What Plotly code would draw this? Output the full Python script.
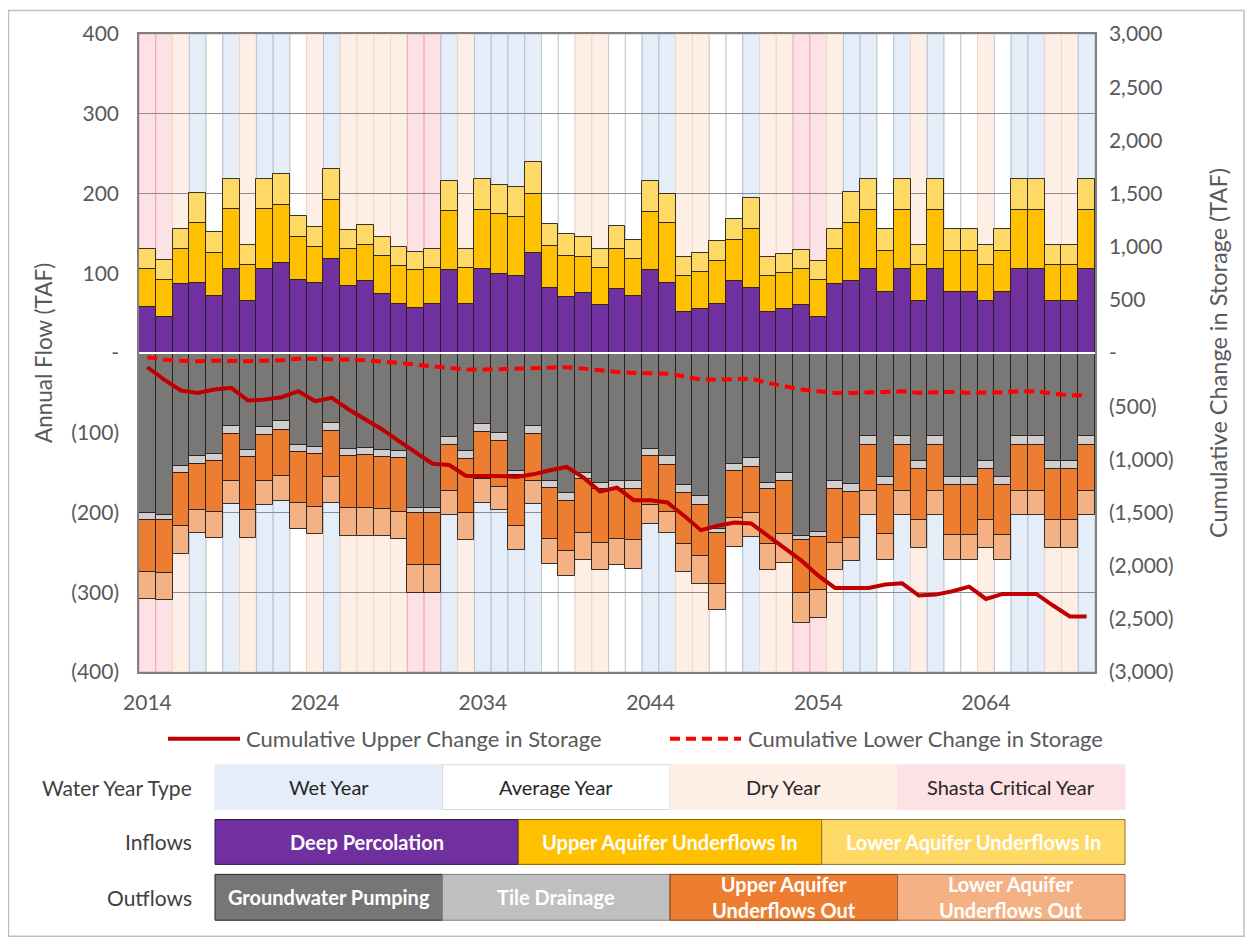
import plotly.graph_objects as go

# ---------------- data ----------------
years = list(range(2014, 2071))

# water year type: W = wet, A = average, D = dry, C = Shasta critical
year_type = ["C", "C", "D", "W", "A", "W", "D", "W", "W", "A",
             "D", "W", "D", "D", "D", "D", "C", "C", "W", "D",
             "W", "W", "W", "W", "A", "A", "D", "D", "A", "A",
             "W", "W", "D", "D", "A", "A", "W", "D", "D", "C",
             "C", "D", "W", "W", "A", "W", "D", "W", "A", "A",
             "D", "A", "W", "W", "D", "D", "W"]

# inflows (TAF)
deep_perc = [58, 45, 86, 88, 71, 105, 65, 105, 113, 92,
             88, 118, 84, 90, 74, 62, 57, 62, 104, 62,
             105, 99, 96, 126, 81, 70, 75, 60, 80, 72,
             104, 88, 51, 55, 62, 90, 81, 51, 55, 60,
             45, 86, 90, 105, 77, 105, 65, 105, 76, 76,
             65, 76, 105, 105, 65, 65, 105]
upper_in = [47, 47, 45, 75, 54, 75, 45, 75, 72, 53,
            45, 74, 46, 46, 48, 47, 47, 45, 74, 44,
            74, 75, 74, 73, 53, 52, 45, 47, 51, 46,
            73, 75, 45, 46, 53, 52, 75, 45, 45, 45,
            47, 45, 73, 74, 51, 74, 45, 74, 52, 52,
            45, 52, 74, 74, 45, 45, 74]
lower_in = [25, 24, 25, 38, 27, 38, 25, 38, 40, 27,
            25, 39, 24, 25, 24, 24, 23, 24, 38, 25,
            39, 37, 38, 40, 28, 27, 25, 24, 28, 24,
            39, 37, 24, 24, 26, 26, 38, 24, 24, 24,
            23, 25, 39, 39, 27, 39, 25, 39, 27, 27,
            25, 27, 39, 39, 25, 25, 39]

# outflows (TAF, magnitudes)
gw_pumping = [201, 203, 142, 129, 127, 92, 121, 93, 85, 115,
              118, 88, 120, 119, 121, 123, 194, 194, 105, 123,
              89, 100, 148, 92, 160, 175, 150, 163, 161, 161,
              120, 129, 165, 179, 221, 139, 132, 163, 151, 229,
              225, 160, 164, 104, 155, 104, 135, 104, 155, 155,
              135, 155, 104, 104, 135, 135, 104]
tile_drainage = [8, 7, 9, 10, 8, 9, 9, 10, 11, 9,
                 9, 10, 9, 9, 9, 9, 7, 7, 10, 10,
                 10, 10, 5, 10, 9, 10, 8, 8, 9, 10,
                 9, 11, 10, 11, 5, 9, 11, 8, 9, 6,
                 6, 10, 10, 11, 10, 11, 10, 11, 10, 10,
                 10, 10, 11, 11, 10, 10, 11]
upper_out = [66, 66, 66, 58, 64, 59, 67, 57, 58, 64,
             66, 57, 65, 66, 65, 67, 65, 65, 58, 67,
             59, 58, 64, 58, 64, 63, 68, 67, 63, 64,
             61, 59, 65, 65, 64, 59, 58, 68, 67, 66,
             66, 68, 58, 58, 62, 58, 65, 58, 63, 63,
             65, 63, 58, 58, 65, 65, 58]
lower_out = [33, 34, 35, 29, 33, 29, 35, 30, 31, 33,
             34, 33, 35, 35, 35, 34, 35, 35, 30, 34,
             30, 29, 30, 29, 31, 32, 34, 34, 33, 36,
             25, 27, 35, 35, 32, 36, 30, 33, 36, 37,
             35, 34, 29, 30, 33, 30, 35, 30, 32, 32,
             35, 32, 30, 30, 35, 35, 30]

# cumulative change in storage (TAF)
cum_upper = [-134, -250, -353, -375, -344, -328, -447, -437, -416, -359,
             -453, -422, -531, -625, -719, -828, -937, -1041, -1053, -1156,
             -1156, -1156, -1166, -1141, -1103, -1072, -1172, -1303, -1266, -1384,
             -1384, -1406, -1531, -1666, -1625, -1594, -1603, -1719, -1828, -1953,
             -2094, -2209, -2209, -2209, -2178, -2166, -2281, -2272, -2241, -2197,
             -2313, -2266, -2266, -2266, -2375, -2478, -2478]
cum_lower = [-40, -62, -72, -78, -72, -78, -78, -72, -69, -53,
             -53, -53, -62, -69, -78, -94, -109, -125, -141, -156,
             -156, -150, -150, -141, -134, -134, -147, -166, -178, -188,
             -188, -194, -219, -250, -250, -241, -241, -281, -312, -344,
             -359, -375, -375, -375, -366, -359, -375, -369, -366, -375,
             -375, -369, -359, -359, -384, -397, -397]

x_tickvals = [2014, 2024, 2034, 2044, 2054, 2064]
x_ticktext = ["2014", "2024", "2034", "2044", "2054", "2064"]
left_tickvals = [-400, -300, -200, -100, 0, 100, 200, 300, 400]
left_ticktext = ["(400)", "(300)", "(200)", "(100)", "-", "100", "200", "300", "400"]
right_tickvals = [-3000, -2500, -2000, -1500, -1000, -500, 0, 500, 1000, 1500, 2000, 2500, 3000]
right_ticktext = ["(3,000)", "(2,500)", "(2,000)", "(1,500)", "(1,000)", "(500)", "-",
                  "500", "1,000", "1,500", "2,000", "2,500", "3,000"]

# ---------------- styles ----------------
FONT = "Lato"
TXT = "#595959"
band_fill = {"W": "#E4EDF8", "A": "#FFFFFF", "D": "#FDEFE6", "C": "#FCE2E5"}
band_line = {"W": "#AFC3DA", "A": "#C8C8C8", "D": "#F3D6C4", "C": "#F2A5AE"}
OUTLINE = dict(color="rgba(35,30,25,0.9)", width=1)

# page offset of the figure (browser body margin)
OFF = 8
W, H = 1237, 930
# plot area in page pixels
PL, PR, PT, PB = 139, 1095, 32, 672


def px(x):
    return (x - PL) / (PR - PL)


def py(y):
    return (PB - y) / (PB - PT)


fig = go.Figure()

inflows = [("Deep Percolation", deep_perc, "#7030A0"),
           ("Upper Aquifer Underflows In", upper_in, "#FFC000"),
           ("Lower Aquifer Underflows In", lower_in, "#FFD966")]
outflows = [("Groundwater Pumping", gw_pumping, "#7A7777"),
            ("Tile Drainage", tile_drainage, "#D0CECE"),
            ("Upper Aquifer Underflows Out", upper_out, "#ED7D31"),
            ("Lower Aquifer Underflows Out", lower_out, "#F4B183")]

for name, vals, col in inflows:
    fig.add_bar(x=years, y=vals, name=name, marker=dict(color=col, line=OUTLINE),
                yaxis="y", showlegend=False)
for name, vals, col in outflows:
    fig.add_bar(x=years, y=[-v for v in vals], name=name,
                marker=dict(color=col, line=OUTLINE), yaxis="y", showlegend=False)

fig.add_scatter(x=years, y=cum_upper, mode="lines", name="Cumulative Upper Change in Storage",
                line=dict(color="#C00000", width=4), yaxis="y2", showlegend=False)
fig.add_scatter(x=years, y=cum_lower, mode="lines", name="Cumulative Lower Change in Storage",
                line=dict(color="#FF0000", width=4, dash="10px,6px"), yaxis="y2", showlegend=False)

shapes = []
# water-year background bands
for yr, t in zip(years, year_type):
    shapes.append(dict(type="rect", xref="x", yref="paper", x0=yr - 0.5, x1=yr + 0.5,
                       y0=0, y1=1, fillcolor=band_fill[t],
                       line=dict(color=band_line[t], width=1), layer="below"))
# zero line
shapes.append(dict(type="line", xref="paper", yref="y", x0=0, x1=1, y0=0, y1=0,
                   line=dict(color="white", width=2), layer="above"))
# outer frame
shapes.append(dict(type="rect", xref="paper", yref="paper", x0=px(8.5), x1=px(1244),
                   y0=py(937), y1=py(8.5), line=dict(color="#BFBFBF", width=1.5),
                   fillcolor="rgba(0,0,0,0)", layer="below"))

annotations = []
# axis titles
annotations.append(dict(text="Annual Flow (TAF)", x=px(43), y=py(352), xref="paper", yref="paper",
                        showarrow=False, textangle=-90, xanchor="center", yanchor="middle",
                        font=dict(family=FONT, size=22.5, color=TXT)))
annotations.append(dict(text="Cumulative Change in Storage (TAF)", x=px(1218), y=py(352),
                        xref="paper", yref="paper", showarrow=False, textangle=-90,
                        xanchor="center", yanchor="middle",
                        font=dict(family=FONT, size=23.5, color=TXT)))

# line legend
shapes.append(dict(type="line", xref="paper", yref="paper", x0=px(168), x1=px(240),
                   y0=py(739), y1=py(739), line=dict(color="#C00000", width=4)))
shapes.append(dict(type="line", xref="paper", yref="paper", x0=px(670), x1=px(741),
                   y0=py(739), y1=py(739), line=dict(color="#FF0000", width=4, dash="10px,6px")))
annotations.append(dict(text="Cumulative Upper Change in Storage", x=px(244), y=py(739),
                        xref="paper", yref="paper", showarrow=False, xanchor="left",
                        yanchor="middle", font=dict(family=FONT, size=22, color=TXT)))
annotations.append(dict(text="Cumulative Lower Change in Storage", x=px(746), y=py(739),
                        xref="paper", yref="paper", showarrow=False, xanchor="left",
                        yanchor="middle", font=dict(family=FONT, size=22, color=TXT)))

# legend table
rows = [
    ("Water Year Type", 765, 810, [
        ("Wet Year", band_fill["W"], "#E4EDF8", "#262626", False),
        ("Average Year", "#FFFFFF", "#D9D9D9", "#262626", False),
        ("Dry Year", band_fill["D"], "#FDEFE6", "#262626", False),
        ("Shasta Critical Year", band_fill["C"], "#FCE2E5", "#262626", False)]),
    ("Inflows", 820, 865, [
        ("Deep Percolation", "#7030A0", "#2E1A52", "white", True),
        ("Upper Aquifer Underflows In", "#FFC000", "#7F6000", "white", True),
        ("Lower Aquifer Underflows In", "#FFD966", "#8C7236", "white", True)]),
    ("Outflows", 875, 921, [
        ("Groundwater Pumping", "#767676", "#262626", "white", True),
        ("Tile Drainage", "#BFBFBF", "#7F7F7F", "white", True),
        ("Upper Aquifer<br>Underflows Out", "#ED7D31", "#843C0C", "white", True),
        ("Lower Aquifer<br>Underflows Out", "#F4B183", "#A0603A", "white", True)]),
]
TX0, TX1 = 215, 1125
for label, y0, y1, cells in rows:
    annotations.append(dict(text=label, x=px(194), y=py((y0 + y1) / 2), xref="paper",
                            yref="paper", showarrow=False, xanchor="right", yanchor="middle",
                            font=dict(family=FONT, size=21, color="#404040")))
    n = len(cells)
    cw = (TX1 - TX0) / n
    for i, (txt, fill, border, tcol, bold) in enumerate(cells):
        cx0 = TX0 + i * cw
        cx1 = cx0 + cw
        shapes.append(dict(type="rect", xref="paper", yref="paper", x0=px(cx0), x1=px(cx1),
                           y0=py(y1), y1=py(y0), fillcolor=fill,
                           line=dict(color=border, width=1)))
        annotations.append(dict(text=(f"<b>{txt}</b>" if bold else txt),
                                x=px((cx0 + cx1) / 2), y=py((y0 + y1) / 2),
                                xref="paper", yref="paper", showarrow=False,
                                xanchor="center", yanchor="middle",
                                font=dict(family=FONT, size=20, color=tcol)))

axis_line = "#808080"
fig.update_layout(
    width=W, height=H,
    margin=dict(l=PL - OFF, r=(OFF + W) - PR, t=PT - OFF, b=(OFF + H) - PB),
    paper_bgcolor="white", plot_bgcolor="white",
    barmode="relative", bargap=0, bargroupgap=0,
    font=dict(family=FONT, color=TXT),
    xaxis=dict(range=[2013.5, 2070.5], tickvals=x_tickvals, ticktext=x_ticktext,
               showgrid=False, zeroline=False, showline=True, mirror=True,
               linecolor=axis_line, linewidth=1.5, ticks="",
               tickfont=dict(family=FONT, size=21, color=TXT), ticklabelstandoff=11),
    yaxis=dict(range=[-400, 400], tickvals=left_tickvals, ticktext=left_ticktext,
               showgrid=True, gridcolor="#8C8C8C", gridwidth=1, zeroline=False,
               showline=True, mirror=True, linecolor=axis_line, linewidth=1.5, ticks="",
               tickfont=dict(family=FONT, size=21, color=TXT), ticklabelstandoff=14),
    yaxis2=dict(range=[-3000, 3000], overlaying="y", side="right",
                tickvals=right_tickvals, ticktext=right_ticktext, showgrid=False,
                zeroline=False, showline=True, linecolor=axis_line, linewidth=1.5, ticks="",
                tickfont=dict(family=FONT, size=21, color=TXT), ticklabelstandoff=8),
    shapes=shapes,
    annotations=annotations,
    showlegend=False,
)

fig.write_html("out.html")
